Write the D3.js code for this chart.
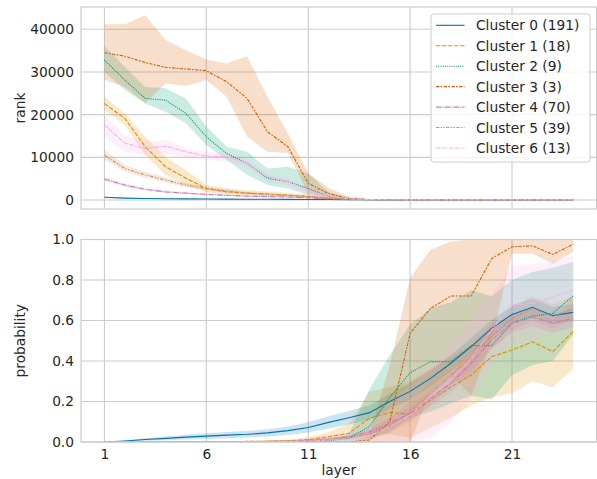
<!DOCTYPE html>
<html>
<head>
<meta charset="utf-8">
<script src="https://cdn.jsdelivr.net/npm/d3@7"></script>
<style>
  html, body { margin: 0; padding: 0; background: #ffffff; }
  svg { display: block; }
  text { font-family: "DejaVu Sans", sans-serif; fill: #262626; }
</style>
</head>
<body>
<svg id="chart" width="597" height="479"></svg>
<script>
// ---------------- DATA ----------------
const layers = [1,2,3,4,5,6,7,8,9,10,11,12,13,14,15,16,17,18,19,20,21,22,23,24];
const xTickValues = [1, 6, 11, 16, 21];
const rankTicks = [0, 10000, 20000, 30000, 40000];
const probTicks = [0.0, 0.2, 0.4, 0.6, 0.8, 1.0];
const clusterNames = ["Cluster 0 (191)", "Cluster 1 (18)", "Cluster 2 (9)", "Cluster 3 (3)", "Cluster 4 (70)", "Cluster 5 (39)", "Cluster 6 (13)"];
const colors = ["#0173b2", "#de8f05", "#029e73", "#d55e00", "#cc78bc", "#ca9161", "#fbafe4"];

// rank (top panel): mean, lower CI, upper CI
const rank0   = [650, 450, 350, 300, 260, 230, 200, 180, 160, 140, 120, 100, 80, 60, 50, 40, 30, 30, 20, 20, 20, 20, 20, 20];
const rank0Lo = [520, 360, 280, 240, 210, 185, 160, 145, 128, 112, 96, 80, 64, 48, 40, 32, 24, 24, 16, 16, 16, 16, 16, 16];
const rank0Hi = [780, 540, 420, 360, 310, 275, 240, 215, 192, 168, 144, 120, 96, 72, 60, 48, 36, 36, 24, 24, 24, 24, 24, 24];

const rank1   = [22600, 19100, 12500, 7800, 5100, 2700, 1900, 1600, 1400, 1100, 800, 400, 200, 100, 60, 40, 30, 20, 20, 20, 20, 20, 20, 20];
const rank1Lo = [21100, 17600, 10500, 5900, 3500, 1900, 1300, 1100, 900, 700, 450, 200, 80, 40, 20, 10, 10, 5, 5, 5, 5, 5, 5, 5];
const rank1Hi = [24200, 20300, 14800, 10100, 7000, 3500, 2700, 2300, 2000, 1700, 1300, 700, 350, 180, 100, 70, 50, 40, 40, 40, 40, 40, 40, 40];

const rank2   = [32800, 28100, 23800, 23400, 20300, 14800, 10900, 8600, 5100, 4300, 2700, 800, 200, 50, 20, 10, 10, 10, 10, 10, 10, 10, 10, 10];
const rank2Lo = [30000, 25800, 22600, 20700, 18000, 12900, 9400, 5900, 3500, 2700, 1200, 300, 50, 10, 5, 2, 2, 2, 2, 2, 2, 2, 2, 2];
const rank2Hi = [36100, 31200, 26500, 26200, 23800, 17200, 12500, 11300, 7400, 7800, 6200, 1900, 500, 150, 60, 30, 25, 20, 20, 20, 20, 20, 20, 20];

const rank3   = [34500, 33700, 32200, 31100, 30700, 30300, 27700, 23800, 16000, 12500, 3900, 1500, 300, 100, 50, 30, 20, 20, 20, 20, 20, 20, 20, 20];
const rank3Lo = [28100, 26500, 22700, 27300, 26800, 28100, 24200, 14800, 11300, 11000, 1600, 500, 50, 10, 5, 5, 5, 5, 5, 5, 5, 5, 5, 5];
const rank3Hi = [41200, 41200, 43300, 37500, 35100, 32900, 32000, 33700, 24200, 15600, 6300, 2800, 800, 250, 100, 60, 40, 40, 40, 40, 40, 40, 40, 40];

const rank4   = [4900, 3500, 2500, 1900, 1600, 1300, 1100, 900, 800, 700, 500, 300, 150, 80, 50, 30, 20, 20, 20, 20, 20, 20, 20, 20];
const rank4Lo = [4500, 3150, 2200, 1650, 1380, 1100, 920, 740, 650, 560, 390, 220, 100, 50, 30, 18, 12, 12, 12, 12, 12, 12, 12, 12];
const rank4Hi = [5300, 3850, 2800, 2150, 1820, 1500, 1280, 1060, 950, 840, 610, 380, 200, 110, 70, 42, 28, 28, 28, 28, 28, 28, 28, 28];

const rank5   = [10500, 7400, 5900, 4700, 3500, 2700, 2100, 1600, 1300, 1100, 800, 400, 200, 100, 50, 30, 20, 20, 20, 20, 20, 20, 20, 20];
const rank5Lo = [9400, 6600, 5200, 4100, 3000, 2300, 1700, 1300, 1000, 850, 600, 250, 120, 50, 25, 15, 10, 10, 10, 10, 10, 10, 10, 10];
const rank5Hi = [11700, 8200, 6600, 5300, 4000, 3100, 2500, 1900, 1600, 1350, 1000, 550, 280, 150, 80, 50, 30, 30, 30, 30, 30, 30, 30, 30];

const rank6   = [17600, 13300, 12100, 12600, 11300, 10300, 10100, 8600, 5500, 4300, 2300, 800, 300, 100, 50, 30, 20, 20, 20, 20, 20, 20, 20, 20];
const rank6Lo = [14800, 11300, 10500, 10900, 10100, 9400, 9100, 7800, 4300, 3500, 1300, 400, 100, 40, 20, 10, 10, 10, 10, 10, 10, 10, 10, 10];
const rank6Hi = [19900, 15200, 13700, 14000, 12100, 11300, 10900, 9400, 6200, 5100, 3100, 1300, 500, 200, 100, 50, 30, 30, 30, 30, 30, 30, 30, 30];

// probability (bottom panel): mean, lower CI, upper CI
const prob0   = [0.0, 0.005, 0.012, 0.018, 0.024, 0.029, 0.034, 0.038, 0.045, 0.056, 0.072, 0.097, 0.12, 0.145, 0.2, 0.25, 0.314, 0.389, 0.471, 0.561, 0.63, 0.665, 0.624, 0.64];
const prob0Lo = [0.0, 0.002, 0.006, 0.009, 0.012, 0.015, 0.019, 0.022, 0.027, 0.035, 0.047, 0.067, 0.087, 0.109, 0.162, 0.21, 0.274, 0.348, 0.429, 0.518, 0.587, 0.622, 0.581, 0.597];
const prob0Hi = [0.0, 0.008, 0.018, 0.027, 0.036, 0.043, 0.049, 0.054, 0.063, 0.077, 0.097, 0.127, 0.153, 0.181, 0.238, 0.29, 0.354, 0.43, 0.513, 0.604, 0.673, 0.708, 0.667, 0.683];

const prob1   = [0, 0, 0, 0, 0.001, 0.001, 0.002, 0.003, 0.004, 0.006, 0.012, 0.026, 0.043, 0.117, 0.145, 0.138, 0.207, 0.27, 0.331, 0.421, 0.454, 0.495, 0.446, 0.545];
const prob1Lo = [0, 0, 0, 0, 0, 0, 0, 0, 0.001, 0.002, 0.004, 0.01, 0.015, 0.03, 0.04, 0.02, 0.07, 0.12, 0.18, 0.22, 0.24, 0.3, 0.27, 0.36];
const prob1Hi = [0, 0, 0, 0, 0.002, 0.003, 0.004, 0.006, 0.008, 0.011, 0.022, 0.05, 0.09, 0.25, 0.27, 0.3, 0.36, 0.42, 0.48, 0.58, 0.63, 0.66, 0.6, 0.72];

const prob2   = [0, 0, 0, 0, 0, 0, 0, 0, 0, 0.002, 0.004, 0.006, 0.02, 0.076, 0.22, 0.342, 0.397, 0.397, 0.476, 0.476, 0.586, 0.622, 0.635, 0.722];
const prob2Lo = [0, 0, 0, 0, 0, 0, 0, 0, 0, 0, 0.001, 0.002, 0.004, 0.01, 0.05, 0.12, 0.15, 0.19, 0.23, 0.21, 0.33, 0.38, 0.4, 0.53];
const prob2Hi = [0, 0, 0, 0, 0, 0, 0, 0, 0, 0.004, 0.008, 0.012, 0.04, 0.26, 0.43, 0.58, 0.66, 0.69, 0.75, 0.72, 0.8, 0.84, 0.86, 0.89];

const prob3   = [0, 0, 0, 0, 0, 0, 0, 0, 0, 0, 0, 0, 0, 0.01, 0.1, 0.537, 0.66, 0.721, 0.721, 0.906, 0.964, 0.969, 0.926, 0.977];
const prob3Lo = [0, 0, 0, 0, 0, 0, 0, 0, 0, 0, 0, 0, 0, 0, 0, 0, 0.25, 0.33, 0.23, 0.5, 0.93, 0.93, 0.88, 0.94];
const prob3Hi = [0, 0, 0, 0, 0, 0, 0, 0, 0, 0, 0, 0, 0, 0.03, 0.38, 0.81, 0.95, 0.99, 1.0, 1.0, 1.0, 1.0, 1.0, 1.0];

const prob4   = [0, 0, 0, 0, 0.001, 0.001, 0.002, 0.002, 0.003, 0.004, 0.008, 0.015, 0.025, 0.05, 0.092, 0.141, 0.216, 0.29, 0.389, 0.504, 0.586, 0.616, 0.586, 0.611];
const prob4Lo = [0, 0, 0, 0, 0, 0, 0.001, 0.001, 0.001, 0.002, 0.004, 0.008, 0.014, 0.032, 0.065, 0.105, 0.175, 0.245, 0.34, 0.455, 0.54, 0.57, 0.54, 0.565];
const prob4Hi = [0, 0, 0, 0, 0.002, 0.002, 0.003, 0.004, 0.005, 0.007, 0.012, 0.022, 0.036, 0.068, 0.12, 0.177, 0.257, 0.335, 0.438, 0.553, 0.632, 0.662, 0.632, 0.657];

const prob5   = [0, 0, 0, 0, 0.001, 0.001, 0.002, 0.002, 0.003, 0.005, 0.008, 0.012, 0.02, 0.04, 0.08, 0.15, 0.24, 0.33, 0.42, 0.52, 0.61, 0.66, 0.62, 0.66];
const prob5Lo = [0, 0, 0, 0, 0, 0, 0.001, 0.001, 0.001, 0.002, 0.003, 0.005, 0.008, 0.02, 0.045, 0.1, 0.18, 0.27, 0.36, 0.46, 0.55, 0.6, 0.56, 0.6];
const prob5Hi = [0, 0, 0, 0, 0.002, 0.002, 0.003, 0.004, 0.005, 0.008, 0.013, 0.02, 0.032, 0.06, 0.115, 0.2, 0.3, 0.39, 0.48, 0.58, 0.67, 0.72, 0.68, 0.72];

const prob6   = [0, 0, 0, 0, 0, 0, 0, 0.001, 0.002, 0.003, 0.005, 0.01, 0.015, 0.03, 0.075, 0.133, 0.224, 0.306, 0.413, 0.553, 0.677, 0.685, 0.715, 0.75];
const prob6Lo = [0, 0, 0, 0, 0, 0, 0, 0, 0, 0, 0, 0, 0, 0, 0, 0, 0.02, 0.1, 0.22, 0.38, 0.5, 0.5, 0.55, 0.6];
const prob6Hi = [0, 0, 0, 0, 0, 0, 0.002, 0.004, 0.006, 0.01, 0.02, 0.035, 0.05, 0.09, 0.2, 0.28, 0.38, 0.48, 0.6, 0.73, 0.87, 0.88, 0.89, 0.92];

// ---------------- STYLE / LAYOUT ----------------
const LW = 1.1;
const dashUnits = [null, [4, 1.5], [1, 1], [3, 1.25, 1.5, 1.25], [5, 1, 1, 1], [3, 1.25, 1.25, 1.25, 1.25, 1.25], [4, 1, 4, 1, 1, 1]];
const dashArr = dashUnits.map(d => d ? d.map(v => (v * LW).toFixed(2)).join(",") : null);
const FS = 13.75;
const gridColor = "#cccccc";

const left = 81, right = 596.6;
const topPanel = { y0: 7, y1: 209 };
const botPanel = { y0: 239.5, y1: 442 };

const svg = d3.select("#chart");
const x = d3.scaleLinear().domain([-0.15, 25.15]).range([left, right]);

function panel(p, yScale, yTicks, yFmt, series, id, showX) {
  const g = svg.append("g");
  // clip
  svg.append("clipPath").attr("id", id).append("rect")
    .attr("x", left).attr("y", p.y0).attr("width", right - left).attr("height", p.y1 - p.y0);
  // grid
  g.selectAll(".gx").data(xTickValues).enter().append("line")
    .attr("x1", d => x(d)).attr("x2", d => x(d)).attr("y1", p.y0).attr("y2", p.y1)
    .attr("stroke", gridColor).attr("stroke-width", 1.1);
  g.selectAll(".gy").data(yTicks).enter().append("line")
    .attr("x1", left).attr("x2", right).attr("y1", d => yScale(d)).attr("y2", d => yScale(d))
    .attr("stroke", gridColor).attr("stroke-width", 1.1);

  const plot = g.append("g").attr("clip-path", `url(#${id})`);
  const area = d3.area().x((d, i) => x(layers[i])).y0(d => yScale(d[0])).y1(d => yScale(d[1]));
  const line = d3.line().x((d, i) => x(layers[i])).y(d => yScale(d));
  // bands first (below lines)
  series.forEach((s, k) => {
    const pts = s.lo.map((v, i) => [v, s.hi[i]]);
    plot.append("path").attr("d", area(pts)).attr("fill", colors[k]).attr("fill-opacity", 0.2).attr("stroke", "none");
  });
  series.forEach((s, k) => {
    const path = plot.append("path").attr("d", line(s.mean)).attr("fill", "none")
      .attr("stroke", colors[k]).attr("stroke-width", LW);
    if (dashArr[k]) path.attr("stroke-dasharray", dashArr[k]);
  });

  // spines
  g.append("rect").attr("x", left).attr("y", p.y0).attr("width", right - left).attr("height", p.y1 - p.y0)
    .attr("fill", "none").attr("stroke", gridColor).attr("stroke-width", 1.25);

  // y axis labels
  const ya = d3.axisLeft(yScale).tickValues(yTicks).tickSize(0).tickPadding(7).tickFormat(yFmt);
  const yg = g.append("g").attr("transform", `translate(${left},0)`).call(ya);
  yg.select(".domain").remove();
  yg.selectAll("text").style("font-size", FS + "px").style("font-family", "DejaVu Sans").attr("fill", "#262626");

  if (showX) {
    const xa = d3.axisBottom(x).tickValues(xTickValues).tickSize(0).tickPadding(7).tickFormat(d3.format("d"));
    const xg = g.append("g").attr("transform", `translate(0,${p.y1})`).call(xa);
    xg.select(".domain").remove();
    xg.selectAll("text").style("font-size", FS + "px").style("font-family", "DejaVu Sans").attr("fill", "#262626");
  }
}

const yRank = d3.scaleLinear().domain([-2109, 45226]).range([topPanel.y1, topPanel.y0]);
const yProb = d3.scaleLinear().domain([0, 1]).range([botPanel.y1, botPanel.y0]);

panel(topPanel, yRank, rankTicks, d3.format("d"), [
  { mean: rank0, lo: rank0Lo, hi: rank0Hi },
  { mean: rank1, lo: rank1Lo, hi: rank1Hi },
  { mean: rank2, lo: rank2Lo, hi: rank2Hi },
  { mean: rank3, lo: rank3Lo, hi: rank3Hi },
  { mean: rank4, lo: rank4Lo, hi: rank4Hi },
  { mean: rank5, lo: rank5Lo, hi: rank5Hi },
  { mean: rank6, lo: rank6Lo, hi: rank6Hi }
], "clipTop", false);

panel(botPanel, yProb, probTicks, d3.format(".1f"), [
  { mean: prob0, lo: prob0Lo, hi: prob0Hi },
  { mean: prob1, lo: prob1Lo, hi: prob1Hi },
  { mean: prob2, lo: prob2Lo, hi: prob2Hi },
  { mean: prob3, lo: prob3Lo, hi: prob3Hi },
  { mean: prob4, lo: prob4Lo, hi: prob4Hi },
  { mean: prob5, lo: prob5Lo, hi: prob5Hi },
  { mean: prob6, lo: prob6Lo, hi: prob6Hi }
], "clipBot", true);

// axis labels
svg.append("text").attr("transform", `translate(25,${(topPanel.y0 + topPanel.y1) / 2}) rotate(-90)`)
  .attr("text-anchor", "middle").style("font-size", FS + "px").text("rank");
svg.append("text").attr("transform", `translate(25,${(botPanel.y0 + botPanel.y1) / 2}) rotate(-90)`)
  .attr("text-anchor", "middle").style("font-size", FS + "px").text("probability");
svg.append("text").attr("x", (left + right) / 2).attr("y", 475)
  .attr("text-anchor", "middle").style("font-size", FS + "px").text("layer");

// legend
const lg = svg.append("g");
lg.append("rect").attr("x", 431).attr("y", 14).attr("width", 159).attr("height", 148).attr("rx", 3)
  .attr("fill", "#ffffff").attr("fill-opacity", 0.8).attr("stroke", gridColor).attr("stroke-width", 1);
clusterNames.forEach((name, k) => {
  const cy = 25.3 + k * 20.45;
  const ln = lg.append("line").attr("x1", 436).attr("x2", 464.5).attr("y1", cy).attr("y2", cy)
    .attr("stroke", colors[k]).attr("stroke-width", LW);
  if (dashArr[k]) ln.attr("stroke-dasharray", dashArr[k]);
  lg.append("text").attr("x", 476).attr("y", cy + 5).style("font-size", FS + "px").text(name);
});
</script>
</body>
</html>
